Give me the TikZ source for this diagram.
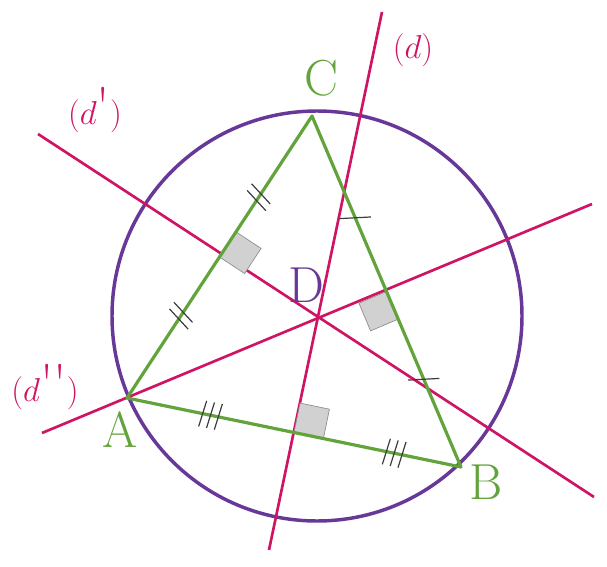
\documentclass[tikz,border=0pt]{standalone}
\usetikzlibrary{calc,decorations.markings}
\definecolor{tgreen}{RGB}{98,163,60}
\definecolor{tmag}{RGB}{208,20,100}
\definecolor{tpurp}{RGB}{104,56,152}
\definecolor{tgray}{RGB}{60,60,60}
\begin{document}
\begin{tikzpicture}[x=0.75pt,y=-0.75pt,
  bis/.style={tmag,line width=2pt},
  side/.style={tgreen,line width=2.4pt,line join=round},
  ra/.style={fill=black!18,draw=black!45,line width=0.5pt},
  tk/.style={tgray,line width=0.9pt},
  lab/.style={font=\fontsize{38}{42}\selectfont},
  dlab/.style={tmag,font=\fontsize{40}{44}\selectfont}]
\useasboundingbox (0,0) rectangle (607,567);
\coordinate (A) at (127,398);
\coordinate (B) at (461,467);
\coordinate (C) at (312,116);
\coordinate (D) at (317,316);
\coordinate (d1) at (382,12); \coordinate (d2) at (269,550);
\coordinate (e1) at (38,134); \coordinate (e2) at (594,497);
\coordinate (f1) at (42,433); \coordinate (f2) at (592,204);
\draw[tpurp,line width=2.6pt] (D) circle[radius=205];
\draw[bis] (d1) -- (d2);
\draw[bis] (e1) -- (e2);
\draw[bis] (f1) -- (f2);
\draw[ra] (219.5,257) -- (236,231.9) -- (261.1,248.4) -- (244.6,273.5) -- cycle;
\draw[ra] (386.5,291.5) -- (398.2,319.1) -- (370.6,330.9) -- (358.9,303.2) -- cycle;
\draw[ra] (294,432.5) -- (323.4,438.6) -- (329.4,409.2) -- (300.1,403.1) -- cycle;
\draw[side] (A) -- (B) -- (C) -- cycle;
\path[decorate,decoration={markings,
  mark=at position 0.29 with {\draw[tk] (-5pt,-10pt)--(0pt,10pt) (1pt,-10pt)--(6pt,10pt);},
  mark=at position 0.71 with {\draw[tk] (-5pt,-10pt)--(0pt,10pt) (1pt,-10pt)--(6pt,10pt);}}] (A) -- (C);
\path[decorate,decoration={markings,
  mark=at position 0.25 with {\draw[tk] (-4pt,-11pt)--(4pt,11pt);},
  mark=at position 0.71 with {\draw[tk] (-4pt,-11pt)--(4pt,11pt);}}] (B) -- (C);
\path[decorate,decoration={markings,
  mark=at position 0.25 with {\draw[tk] (-7pt,-10pt)--(-5pt,10pt) (-1pt,-10pt)--(1pt,10pt) (5pt,-10pt)--(7pt,10pt);},
  mark=at position 0.80 with {\draw[tk] (-7pt,-10pt)--(-5pt,10pt) (-1pt,-10pt)--(1pt,10pt) (5pt,-10pt)--(7pt,10pt);}}] (A) -- (B);
\node[lab,text=tgreen] (lC) at (321,78) {C};
\node[lab,text=tgreen] (lA) at (120,430) {A};
\node[lab,text=tgreen] (lB) at (486,482) {B};
\node[lab,text=tpurp] (lD) at (306,285) {D};
\node[dlab] (ld) at (413,50) {$(d)$};
\node[dlab] (ldp) at (95,110) {$(d$\textquotesingle$)$};
\node[dlab] (ldpp) at (45,387) {$(d$\textquotesingle\textquotesingle$)$};
\end{tikzpicture}
\end{document}
